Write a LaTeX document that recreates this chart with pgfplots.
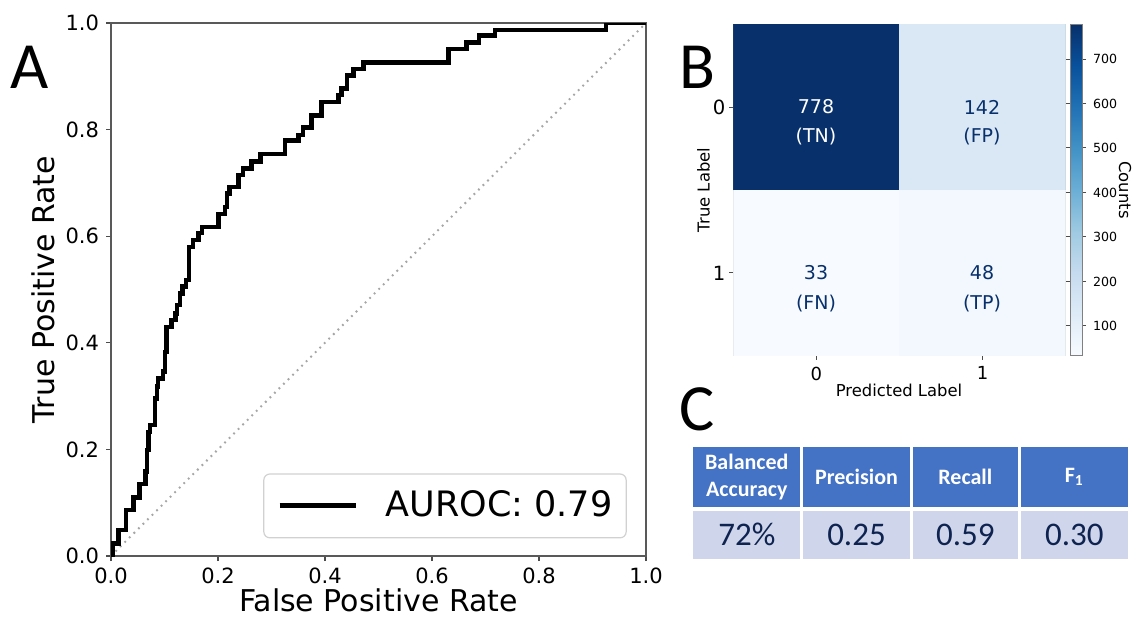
\documentclass[border=0pt]{standalone}
\usepackage{pgfplots}
\pgfplotsset{compat=1.18}
\usepackage{fontspec}
\setmainfont{DejaVu Sans}
\newfontfamily\carlito{Carlito}
\definecolor{hdr}{HTML}{4472C4}
\definecolor{rowc}{HTML}{CFD5EA}
\definecolor{navy}{HTML}{08306B}
\definecolor{tabtxt}{HTML}{0E2350}
\pgfplotsset{colormap={blues}{rgb255=(247,251,255) rgb255=(222,235,247) rgb255=(198,219,239) rgb255=(158,202,225) rgb255=(107,174,214) rgb255=(66,146,198) rgb255=(33,113,181) rgb255=(8,81,156) rgb255=(8,48,107)}}
\begin{document}
\begin{tikzpicture}
\path[use as bounding box] (0,0) rectangle (566.5pt,-308pt);

% ---------------- Panel A: ROC ----------------
\begin{axis}[
  at={(55.5pt,-278pt)}, anchor=south west,
  scale only axis, width=267.5pt, height=266.5pt,
  xmin=0, xmax=1, ymin=0, ymax=1,
  xtick={0,0.2,0.4,0.6,0.8,1}, ytick={0,0.2,0.4,0.6,0.8,1},
  xticklabels={0.0,0.2,0.4,0.6,0.8,1.0},
  yticklabels={0.0,0.2,0.4,0.6,0.8,1.0},
  tick align=outside, tick pos=left, major tick length=2.5pt,
  every tick/.style={black!70, line width=0.6pt},
  axis line style={black!65, line width=0.6pt},
  ticklabel style={font=\fontsize{10.5}{12}\selectfont},
  legend style={at={(axis description cs:0.964,0.033)}, anchor=south east,
    draw=black!18, rounded corners=3pt, line width=0.6pt,
    font=\fontsize{17.5}{20}\selectfont,
    inner xsep=6.8pt, inner ysep=0pt,
    nodes={inner sep=0pt, text height=21.1pt, text depth=10.8pt},
    /tikz/every odd column/.append style={column sep=14pt}},
  legend image code/.code={\draw[#1] (0pt,0.3pt) -- (37.9pt,0.3pt);},
]
\addplot[forget plot, black!35, line width=1pt, dash pattern=on 0.9pt off 2.3pt] coordinates {(0,0) (1,1)};
\addplot[black, line width=2.3pt, const plot] coordinates {
(0,0)(0.003,0.024)(0.014,0.049)(0.028,0.086)(0.042,0.110)(0.053,0.135)(0.064,0.158)(0.067,0.199)(0.070,0.233)(0.073,0.246)(0.082,0.296)(0.086,0.318)(0.088,0.333)(0.097,0.346)(0.101,0.383)(0.104,0.430)(0.113,0.443)(0.120,0.455)(0.123,0.471)(0.129,0.493)(0.134,0.506)(0.140,0.518)(0.146,0.580)(0.153,0.593)(0.163,0.606)(0.170,0.617)(0.201,0.642)(0.213,0.655)(0.217,0.680)(0.222,0.692)(0.238,0.715)(0.247,0.727)(0.263,0.740)(0.279,0.754)(0.325,0.779)(0.350,0.790)(0.359,0.804)(0.375,0.827)(0.394,0.852)(0.425,0.865)(0.431,0.877)(0.441,0.901)(0.453,0.914)(0.472,0.926)(0.631,0.951)(0.665,0.963)(0.688,0.977)(0.718,0.987)(0.925,1.0)(1.0,1.0)};
\addlegendentry{AUROC: 0.79}
\end{axis}
\node[anchor=base, font=\fontsize{15}{18}\selectfont, inner sep=0pt] at (189.25pt,-305.8pt) {False Positive Rate};
\node[anchor=base, rotate=90, font=\fontsize{15}{18}\selectfont, inner sep=0pt] at (27pt,-144.75pt) {True Positive Rate};

% ---------------- Panel B: confusion matrix ----------------
\begin{axis}[
  at={(366.65pt,-177.85pt)}, anchor=south west,
  scale only axis, width=166.2pt, height=165.7pt,
  xmin=-0.5, xmax=1.5, ymin=-0.5, ymax=1.5, y dir=reverse,
  xtick={0,1}, ytick={0,1}, xticklabels={0,1}, yticklabels={0,1},
  tick align=outside, tick pos=left, major tick length=2pt,
  every tick/.style={black!70, line width=0.5pt},
  axis line style={black!50, line width=0.6pt},
  xticklabel style={font=\fontsize{9}{11}\selectfont},
  yticklabel style={font=\fontsize{9.8}{12}\selectfont, xshift=1.5pt},
  colormap name=blues, point meta min=33, point meta max=778,
  colorbar,
  colorbar style={at={(parent axis.north east)}, anchor=north west, xshift=-6.35pt,
    width=6pt, scale only axis,
    ytick={100,200,300,400,500,600,700},
    yticklabels={100,200,300,400,500,600,700},
    yticklabel pos=right,
    tick align=outside, major tick length=2pt,
    every tick/.style={black!70, line width=0.5pt},
    axis line style={black!50, line width=0.5pt},
    yticklabel style={font=\fontsize{6.3}{8}\selectfont}},
]
\addplot[matrix plot*, mesh/cols=2, mesh/rows=2, point meta=explicit] coordinates {(0,0) [778] (1,0) [142] (0,1) [33] (1,1) [48]};
\end{axis}
\begin{scope}[every node/.style={font=\fontsize{9.5}{11}\selectfont, inner sep=0pt}]
\node[white] at (408pt,-53.5pt) {778};
\node[white] at (408pt,-68.3pt) {(TN)};
\node[navy] at (491pt,-53.5pt) {142};
\node[navy] at (491pt,-68.3pt) {(FP)};
\node[navy] at (408pt,-136.4pt) {33};
\node[navy] at (408pt,-151.6pt) {(FN)};
\node[navy] at (491pt,-136.4pt) {48};
\node[navy] at (491pt,-151.6pt) {(TP)};
\end{scope}
\node[font=\fontsize{8.2}{10}\selectfont, anchor=base, inner sep=0pt] at (449.5pt,-198pt) {Predicted Label};
\node[font=\fontsize{8.2}{10}\selectfont, rotate=90, inner sep=0pt] at (351.8pt,-95pt) {True Label};
\node[font=\fontsize{8.2}{10}\selectfont, rotate=-90, inner sep=0pt] at (562.5pt,-95pt) {Counts};

% ---------------- Panel letters ----------------
\node[font=\carlito\fontsize{33}{36}\selectfont, anchor=base, inner sep=0pt] at (15pt,-44.15pt) {A};
\node[font=\carlito\fontsize{33}{36}\selectfont, anchor=base, inner sep=0pt] at (348.6pt,-44.15pt) {B};
\node[font=\carlito\fontsize{33}{36}\selectfont, anchor=base, inner sep=0pt] at (348.3pt,-215pt) {C};

% ---------------- Panel C: table ----------------
\fill[hdr] (346.65pt,-223.35pt) rectangle (400.2pt,-253.65pt);
\fill[hdr] (401.5pt,-223.35pt) rectangle (455.0pt,-253.65pt);
\fill[hdr] (456.3pt,-223.35pt) rectangle (509.0pt,-253.65pt);
\fill[hdr] (510.3pt,-223.35pt) rectangle (564.0pt,-253.65pt);
\fill[rowc] (346.65pt,-255.35pt) rectangle (400.2pt,-279.5pt);
\fill[rowc] (401.5pt,-255.35pt) rectangle (455.0pt,-279.5pt);
\fill[rowc] (456.3pt,-255.35pt) rectangle (509.0pt,-279.5pt);
\fill[rowc] (510.3pt,-255.35pt) rectangle (564.0pt,-279.5pt);
\begin{scope}[every node/.style={font=\carlito\bfseries\fontsize{11}{13.3}\selectfont, text=white, inner sep=0pt, align=center}]
\node at (373.4pt,-238.5pt) {Balanced\\Accuracy};
\node at (428.25pt,-238.5pt) {Precision};
\node at (482.65pt,-238.5pt) {Recall};
\node at (537.15pt,-238.5pt) {F\textsubscript{1}};
\end{scope}
\begin{scope}[every node/.style={font=\carlito\fontsize{16.5}{18}\selectfont, text=tabtxt, inner sep=0pt}]
\node at (373.4pt,-267.4pt) {72\%};
\node at (428.25pt,-267.4pt) {0.25};
\node at (482.65pt,-267.4pt) {0.59};
\node at (537.15pt,-267.4pt) {0.30};
\end{scope}
\end{tikzpicture}
\end{document}
